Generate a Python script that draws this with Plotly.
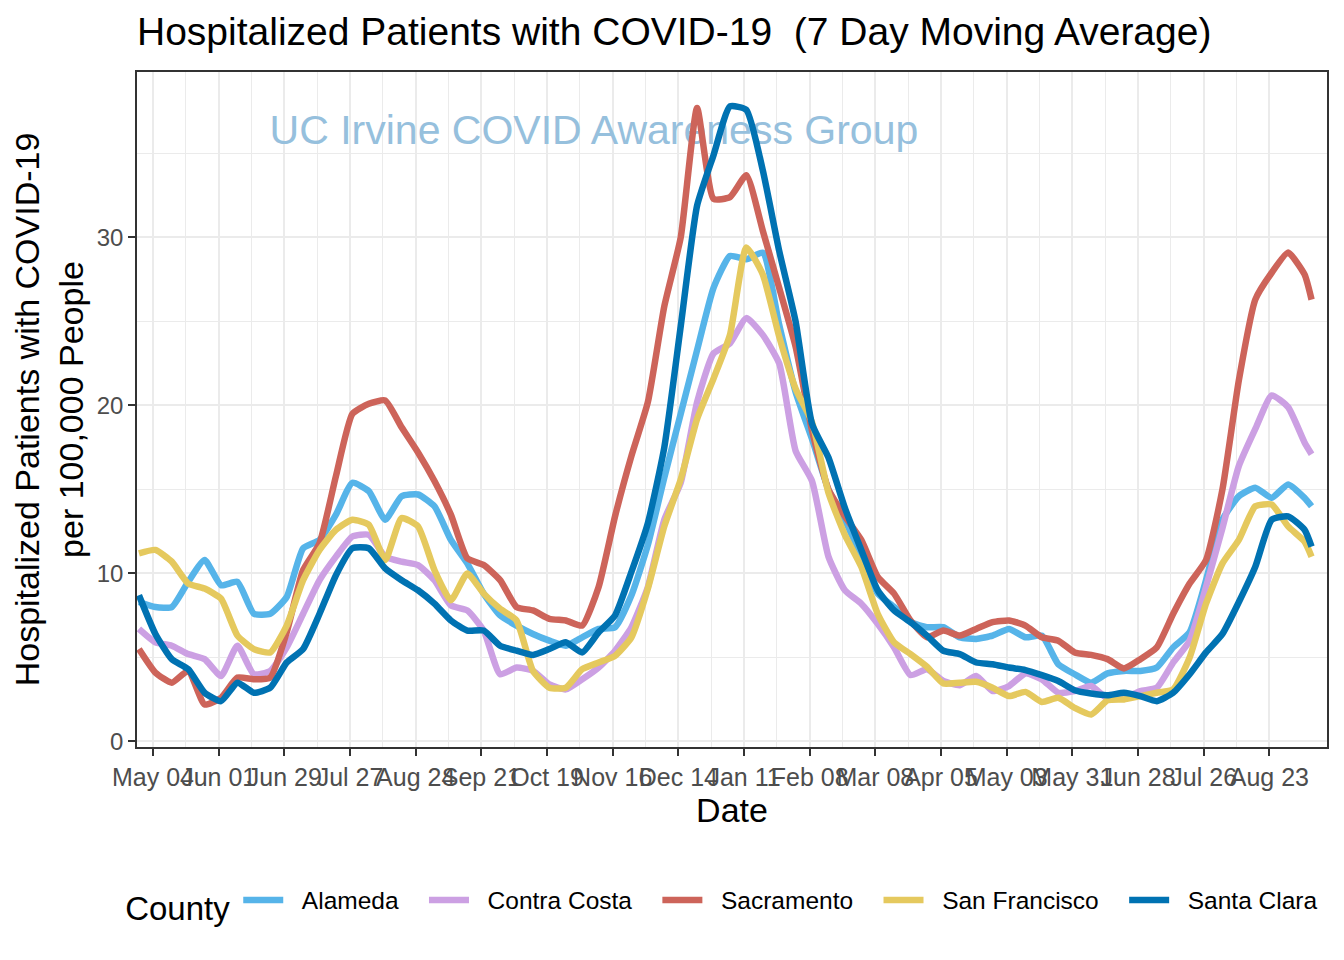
import pandas as pd
import plotly.graph_objects as go

# Weekly sample dates (7-day moving average readings) plus the last day shown
dates = list(pd.date_range("2020-04-28", periods=72, freq="7D")) + [pd.Timestamp("2021-09-10")]

alameda = [8.3, 8.0, 8.0, 9.5, 10.8, 9.3, 9.5, 7.6, 7.6, 8.6,
           11.5, 12.0, 13.5, 15.4, 14.9, 13.2, 14.6, 14.7, 14.0, 12.0,
           10.6, 8.8, 7.5, 6.9, 6.4, 6.0, 5.7, 6.2, 6.7, 6.8,
           8.7, 11.7, 15.7, 19.5, 23.3, 27.0, 28.9, 28.7, 29.1, 24.8,
           20.8, 18.0, 15.0, 13.2, 11.0, 8.8, 8.0, 7.1, 6.8, 6.8,
           6.2, 6.1, 6.3, 6.7, 6.2, 6.3, 4.6, 4.0, 3.5, 4.05,
           4.2, 4.2, 4.4, 5.6, 6.5, 9.6, 13.2, 14.6, 15.1, 14.5,
           15.3, 14.5, 14.0]
contra_costa = [6.7, 5.9, 5.7, 5.2, 4.9, 3.9, 5.7, 4.0, 4.2, 5.6,
                7.6, 9.6, 11.0, 12.2, 12.3, 11.0, 10.7, 10.5, 9.6, 8.1,
                7.8, 6.6, 4.0, 4.4, 4.2, 3.4, 3.1, 3.7, 4.4, 5.4,
                6.8, 9.2, 13.2, 15.4, 20.2, 23.1, 23.7, 25.2, 24.2, 22.5,
                17.3, 15.5, 11.0, 9.0, 8.2, 7.0, 5.6, 3.95, 4.3, 3.6,
                3.35, 3.9, 3.0, 3.3, 4.05, 3.7, 2.9, 3.0, 3.3, 2.55,
                2.6, 3.0, 3.2, 4.7, 6.0, 9.2, 12.7, 16.4, 18.6, 20.6,
                19.9, 17.8, 17.1]
sacramento = [5.5, 4.1, 3.5, 4.2, 2.2, 2.6, 3.8, 3.7, 3.8, 6.5,
              10.2, 11.8, 15.8, 19.5, 20.1, 20.3, 18.7, 17.2, 15.5, 13.5,
              10.9, 10.5, 9.6, 8.0, 7.8, 7.3, 7.2, 6.9, 9.2, 13.4,
              17.0, 20.2, 25.9, 30.0, 37.7, 32.3, 32.4, 33.7, 30.4, 27.0,
              23.5, 18.5, 15.0, 13.4, 12.0, 9.8, 8.8, 7.2, 6.2, 6.6,
              6.3, 6.7, 7.1, 7.2, 6.9, 6.2, 6.0, 5.3, 5.15, 4.9,
              4.35, 4.9, 5.6, 7.6, 9.4, 10.8, 15.0, 21.5, 26.3, 27.9,
              29.1, 27.8, 26.3]
san_francisco = [11.2, 11.4, 10.7, 9.4, 9.1, 8.5, 6.3, 5.5, 5.3, 6.9,
                 9.6, 11.4, 12.6, 13.2, 12.9, 10.8, 13.3, 12.8, 10.2, 8.4,
                 10.0, 8.8, 7.9, 7.2, 4.2, 3.2, 3.2, 4.3, 4.7, 5.1,
                 6.2, 9.1, 12.8, 15.6, 19.2, 21.6, 24.2, 29.4, 27.8, 24.1,
                 21.0, 19.0, 14.8, 12.3, 10.4, 7.6, 5.9, 5.2, 4.45, 3.45,
                 3.5, 3.55, 3.2, 2.7, 2.95, 2.35, 2.6, 2.0, 1.6, 2.45,
                 2.5, 2.7, 2.9, 3.1, 5.0, 8.2, 10.6, 12.0, 14.0, 14.1,
                 12.8, 11.9, 11.0]
santa_clara = [8.7, 6.4, 4.9, 4.3, 2.9, 2.4, 3.5, 2.9, 3.2, 4.7,
               5.5, 7.6, 9.9, 11.5, 11.5, 10.3, 9.6, 9.0, 8.2, 7.2,
               6.6, 6.6, 5.7, 5.4, 5.15, 5.5, 5.9, 5.3, 6.5, 7.5,
               10.1, 13.0, 17.5, 24.7, 31.9, 34.9, 37.8, 37.6, 34.0, 29.2,
               25.0, 18.9, 16.9, 13.9, 11.4, 9.0, 7.8, 7.1, 6.3, 5.4,
               5.2, 4.7, 4.6, 4.4, 4.25, 3.95, 3.6, 3.05, 2.85, 2.75,
               2.9, 2.7, 2.4, 2.9, 4.0, 5.3, 6.4, 8.3, 10.4, 13.2,
               13.4, 12.6, 11.6]

counties = ["Alameda", "Contra Costa", "Sacramento", "San Francisco", "Santa Clara"]
series = [alameda, contra_costa, sacramento, san_francisco, santa_clara]
colors = ["#56B4E9", "#CCA0E3", "#CD645A", "#E5C95E", "#0072B2"]

x_ticks = list(pd.date_range("2020-05-04", periods=18, freq="28D"))
x_minor = list(pd.date_range("2020-05-18", periods=17, freq="28D"))
y_ticks = [0, 10, 20, 30]
y_minor = [5, 15, 25, 35]

FONT = "Liberation Sans, Arial, sans-serif"
NB = "\u00a0"

# page body has an 8px default margin: the figure is sized/offset to compensate
W, H, OFF = 1336, 952, 8

fig = go.Figure()

# watermark text drawn underneath the lines
fig.add_trace(go.Scatter(
    x=[pd.Timestamp("2020-11-08")], y=[36.2], mode="text",
    text=["UC Irvine COVID Awareness Group"],
    textfont=dict(family=FONT, size=41, color="#96C0DD"),
    textposition="middle center", showlegend=False, hoverinfo="skip"))

for name, vals, col in zip(counties, series, colors):
    fig.add_trace(go.Scatter(
        x=dates, y=vals, mode="lines", name=NB * 2 + name + NB * 3,
        line=dict(color=col, width=6.5, shape="spline", smoothing=0.5)))

grid = "#EBEBEB"
fig.update_layout(
    width=W, height=H,
    paper_bgcolor="white", plot_bgcolor="white",
    margin=dict(l=137 - OFF, r=(OFF + W) - 1327, t=72 - OFF, b=(OFF + H) - 747),
    font=dict(family=FONT, color="black"),
    title=dict(text="Hospitalized Patients with COVID-19  (7 Day Moving Average)",
               x=(137 - OFF) / W, xanchor="left", xref="container",
               y=1 - (31 - OFF) / H, yanchor="middle", yref="container",
               font=dict(family=FONT, size=39, color="black")),
    legend=dict(orientation="h", x=0.501, xanchor="center",
                y=1 - (904 - OFF) / H, yanchor="middle", yref="container",
                title=dict(text="County", side="left", font=dict(size=33, color="black")),
                font=dict(size=24.5, color="black"),
                itemwidth=40, tracegroupgap=0, bgcolor="rgba(0,0,0,0)"),
    showlegend=True,
)

fig.update_xaxes(
    range=["2020-04-27 04:00", "2021-09-16 14:00"],
    tickmode="array", tickvals=x_ticks, tickformat="%b %d", tickangle=0,
    tickfont=dict(size=25, color="#4D4D4D"),
    ticks="outside", ticklen=7, tickwidth=2, tickcolor="#333333",
    showgrid=True, gridcolor=grid, gridwidth=2.2,
    minor=dict(tickmode="array", tickvals=x_minor, showgrid=True,
               gridcolor=grid, gridwidth=1.2, ticks=""),
    showline=True, linecolor="#333333", linewidth=1.5, mirror=True,
    zeroline=False,
    title=dict(text="Date", font=dict(size=34, color="black"), standoff=6),
)
fig.update_yaxes(
    range=[-0.33, 39.85],
    tickmode="array", tickvals=y_ticks,
    tickfont=dict(size=24, color="#4D4D4D"),
    ticks="outside", ticklen=7, tickwidth=2, tickcolor="#333333",
    showgrid=True, gridcolor=grid, gridwidth=2.2,
    minor=dict(tickmode="array", tickvals=y_minor, showgrid=True,
               gridcolor=grid, gridwidth=1.2, ticks=""),
    showline=True, linecolor="#333333", linewidth=1.5, mirror=True,
    zeroline=False,
    title=dict(text="Hospitalized Patients with COVID-19<br>per 100,000 People",
               font=dict(size=34, color="black"), standoff=8),
)

fig.write_html("out.html")
